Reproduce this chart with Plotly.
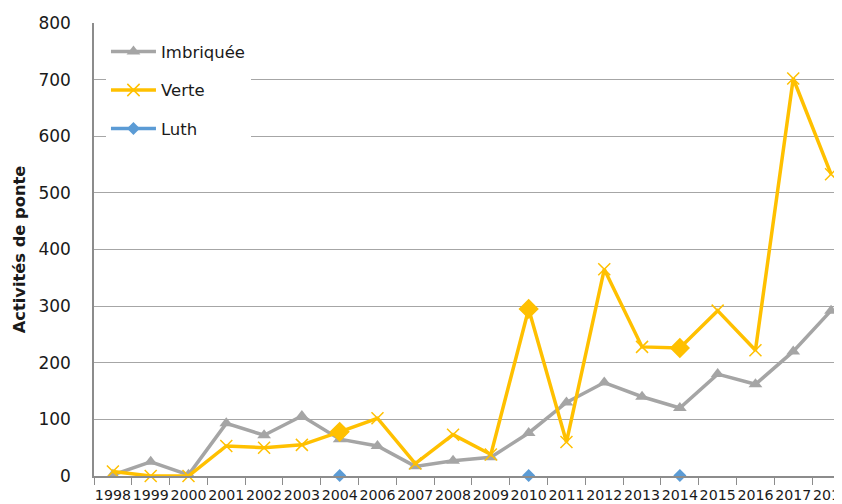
import plotly.graph_objects as go

years = ["1998", "1999", "2000", "2001", "2002", "2003", "2004", "2006", "2007", "2008",
         "2009", "2010", "2011", "2012", "2013", "2014", "2015", "2016", "2017", "2018"]
imbriquee = [2, 25, 2, 93, 72, 106, 65, 53, 17, 27, 33, 76, 130, 165, 140, 120, 180, 162, 220, 292]
verte = [8, 0, 0, 53, 50, 55, 78, 102, 22, 73, 38, 295, 60, 365, 228, 226, 292, 222, 702, 533]
luth = [None, None, None, None, None, None, 1, None, None, None, None, 1, None, None, None, 1, None, None, None, None]
verte_diamond_years = ["2004", "2010", "2014"]

GRAY = "#A5A5A5"
YELLOW = "#FFC000"
BLUE = "#5B9BD5"
FONT = "DejaVu Sans"
TXT = "#1a1a1a"

verte_symbols = ["diamond" if y in verte_diamond_years else "x-thin" for y in years]
verte_sizes = [14 if y in verte_diamond_years else 12 for y in years]

fig = go.Figure()
fig.add_trace(go.Scatter(
    x=years, y=imbriquee, name="Imbriquée", mode="lines+markers",
    line=dict(color=GRAY, width=3.5),
    marker=dict(symbol="triangle-up", size=12, color=GRAY, opacity=1),
    legendgroup="a", cliponaxis=False))
fig.add_trace(go.Scatter(
    x=years, y=verte, name="Verte", mode="lines+markers",
    line=dict(color=YELLOW, width=3.5),
    marker=dict(symbol=verte_symbols, size=verte_sizes, color=YELLOW, opacity=1,
                line=dict(color=YELLOW, width=1.5)),
    legendgroup="b", cliponaxis=False))
fig.add_trace(go.Scatter(
    x=years, y=luth, name="Luth", mode="lines+markers",
    line=dict(color=BLUE, width=3.5),
    marker=dict(symbol="diamond", size=10, color=BLUE, opacity=1),
    legendgroup="c", cliponaxis=False))

fig.update_layout(
    width=842, height=504,
    margin=dict(l=86, r=8, t=15, b=36),
    paper_bgcolor="white", plot_bgcolor="white",
    font=dict(family=FONT, color=TXT, size=14),
    showlegend=True,
    legend=dict(x=0.016, y=0.975, xanchor="left", yanchor="top",
                bgcolor="white", borderwidth=0,
                traceorder="grouped", tracegroupgap=14,
                font=dict(family=FONT, size=16.5, color=TXT),
                itemwidth=45),
    xaxis=dict(type="category", categoryorder="array", categoryarray=years,
               range=[-0.5, 19.29], automargin=False,
               showline=True, linecolor="#8c8c8c", linewidth=1.5,
               ticks="outside", tickson="boundaries", ticklen=7,
               tickcolor="#8c8c8c", tickwidth=1.2, tickangle=0,
               showgrid=False, tickfont=dict(size=14.2, family=FONT, color=TXT),
               ticklabelstandoff=5),
    yaxis=dict(range=[0, 800], tick0=0, dtick=100, automargin=False,
               showline=True, linecolor="#8c8c8c", linewidth=1.5,
               showgrid=True, gridcolor="#a6a6a6", gridwidth=1.2,
               zeroline=False, ticks="",
               tickfont=dict(size=17, family=FONT, color=TXT),
               ticklabelstandoff=18,
               title=dict(text="<b>Activités de ponte</b>",
                          font=dict(size=16.3, family=FONT, color=TXT), standoff=9)),
)

fig.write_html("out.html")
